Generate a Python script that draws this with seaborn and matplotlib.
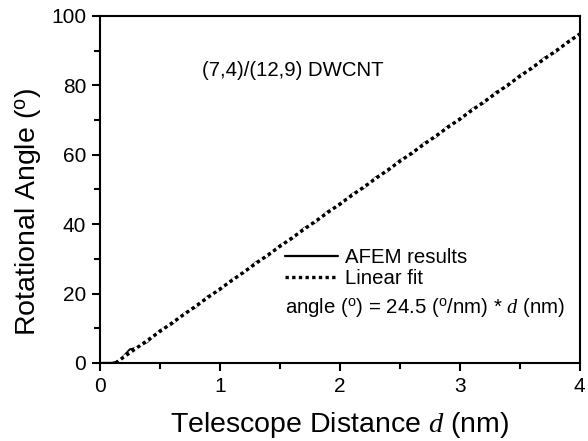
import matplotlib
matplotlib.use('Agg')
import matplotlib.pyplot as plt
from matplotlib.ticker import MultipleLocator
import seaborn as sns
import pandas as pd

# datos (AFEM vs ajuste lineal)
distancia = [0.0, 0.1, 0.15, 0.2, 0.25, 0.3, 0.4, 0.5, 0.6, 0.7, 0.8, 0.9, 1.0,
             1.1, 1.2, 1.3, 1.4, 1.5, 1.6, 1.7, 1.8, 1.9, 2.0, 2.1, 2.2, 2.3,
             2.4, 2.5, 2.6, 2.7, 2.8, 2.9, 3.0, 3.1, 3.2, 3.3, 3.4, 3.5, 3.6,
             3.7, 3.8, 3.9, 4.0]
angulo_afem = [0.0, 0.0, 0.4, 2.0, 3.9, 4.3, 6.2, 9.4, 11.2, 14.2, 16.1, 19.2, 21.0,
               24.0, 26.0, 29.0, 30.8, 33.9, 35.7, 38.8, 40.6, 43.7, 45.5, 48.6, 50.4,
               53.5, 55.3, 58.4, 60.2, 63.3, 65.1, 68.2, 70.0, 73.1, 74.9, 78.0,
               79.8, 82.9, 84.7, 87.8, 89.6, 92.6, 94.8]
fit_x = [0.13, 4.0]
fit_y = [0.0, 94.8]

sns.set_style('ticks')
plt.rcParams['font.family'] = ['Liberation Sans', 'DejaVu Sans']
plt.rcParams['mathtext.fontset'] = 'custom'
plt.rcParams['mathtext.rm'] = 'Liberation Sans'
plt.rcParams['mathtext.it'] = 'Liberation Serif:italic'
plt.rcParams['text.color'] = 'black'
plt.rcParams['axes.labelcolor'] = 'black'

df = pd.DataFrame({'d': distancia, 'angle': angulo_afem})

fig = plt.figure(figsize=(5.88, 4.41), dpi=100)
ax = fig.add_axes([0.170, 0.177, 0.816, 0.787])

sns.lineplot(data=df, x='d', y='angle', ax=ax, color='black', linewidth=1.6,
             label='AFEM results')
ax.plot(fit_x, fit_y, color='black', linewidth=2.4, linestyle=(0, (1, 1)),
        gapcolor='white', label='Linear fit')

ax.set_xlim(0, 4)
ax.set_ylim(0, 100)
ax.xaxis.set_major_locator(MultipleLocator(1))
ax.xaxis.set_minor_locator(MultipleLocator(0.5))
ax.yaxis.set_major_locator(MultipleLocator(20))
ax.yaxis.set_minor_locator(MultipleLocator(10))
ax.tick_params(which='major', direction='out', length=6, width=1.5, labelsize=15,
               colors='black', pad=4)
ax.tick_params(which='minor', direction='out', length=4, width=1.5, colors='black')
for s in ax.spines.values():
    s.set_visible(True)
    s.set_linewidth(1.5)
    s.set_color('black')

ax.set_xlabel('Telescope Distance $d$ (nm)', fontsize=20.5, labelpad=10)
ax.set_ylabel(r'Rotational Angle ($^{\rm o}$)', fontsize=20.5)
ax.yaxis.set_label_coords(-0.117, 0.435)

ax.text(0.85, 84.4, '(7,4)/(12,9) DWCNT', fontsize=14.7, va='center')
ax.text(1.54, 15.85, r'angle ($^{\rm o}$) = 24.5 ($^{\rm o}$/nm) * $d$ (nm)', fontsize=14.7,
        va='center')

ax.legend(loc='upper left', bbox_to_anchor=(0.385, 0.33), frameon=False, fontsize=14.7,
          borderpad=0, borderaxespad=0, handlelength=2.6, handletextpad=0.35,
          labelspacing=0.1)

plt.savefig('out.png', dpi=100)
